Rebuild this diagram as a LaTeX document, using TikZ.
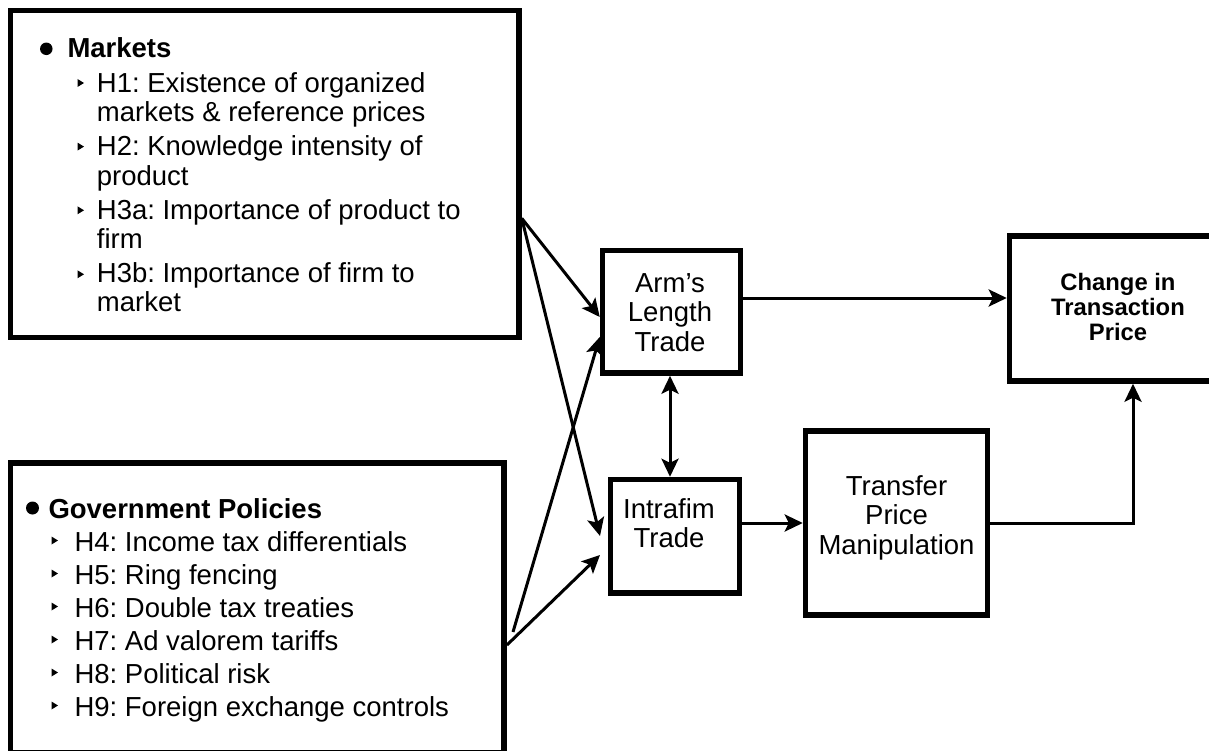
\documentclass[tikz,border=0pt]{standalone}
\usepackage{fontspec}
\setmainfont{Liberation Sans}
\usetikzlibrary{arrows.meta}
\frenchspacing
\begin{document}
\begin{tikzpicture}[x=1pt,y=-1pt,
  box/.style={draw=black, line width=5.5pt, rectangle, inner sep=0pt},
  boxtext/.style={align=center, inner sep=0pt, font=\fontsize{27.5}{29.5}\selectfont},
  listtext/.style={anchor=base west, inner sep=0pt},
  conn/.style={line width=3pt, -{Stealth[length=18pt,width=17pt,inset=4pt]}},
  dconn/.style={line width=3pt, {Stealth[length=18pt,width=17pt,inset=4pt]}-{Stealth[length=18pt,width=17pt,inset=4pt]}},
  glyph/.style={fill=black}
]
\useasboundingbox (0,0) rectangle (1209,751);
\clip (0,0) rectangle (1209,751);
\fill[white] (0,0) rectangle (1209,751);

% boxes
\node[box, minimum width=508.5pt, minimum height=327pt] (markets) at (264.75,174) {};
\node[box, minimum width=493.7pt, minimum height=290pt] (gov) at (257.35,608) {};
\node[box, minimum width=138pt, minimum height=122.5pt] (arm) at (671.5,311.75) {};
\node[box, minimum width=129pt, minimum height=113.5pt] (intra) at (675,536.25) {};
\node[box, minimum width=182pt, minimum height=184pt] (transfer) at (896.5,523) {};
\node[box, minimum width=217pt, minimum height=145pt] (change) at (1118,308.5) {};

% box texts
\node[boxtext] (armtext) at (670,312.4) {Arm’s\\Length\\Trade};
\node[boxtext] (intratext) at (669,523) {Intrafim\\Trade};
\node[boxtext] (transtext) at (896.5,517.8) {Transfer\\Price\\Manipulation};
\node[boxtext, font=\bfseries\fontsize{23.8}{25}\selectfont] (changetext) at (1118,306.7) {Change in\\Transaction\\Price};

% markets list
\fill[glyph] (46.3,48.8) circle (6.25pt);
\node[listtext, font=\bfseries\fontsize{27.5}{29.3}\selectfont] (mhead) at (67.3,57.5) {Markets};
\node[listtext, font=\fontsize{27.5}{29.3}\selectfont] (mlist) at (96.7,92.7) {\begin{tabular}[t]{@{}l@{}}
H1: Existence of organized\\
markets \& reference prices\\[4.7pt]
H2: Knowledge intensity of\\
product\\[4.7pt]
H3a: Importance of product to\\
firm\\[4.7pt]
H3b: Importance of firm to\\
market
\end{tabular}};
\foreach \y in {83,146.6,210.3,274.3}
  \fill[glyph] (77.5,\y-4) -- (84,\y) -- (77.5,\y+4) -- cycle;

% government list
\fill[glyph] (32.5,508) circle (6.5pt);
\node[listtext, font=\bfseries\fontsize{27.5}{33}\selectfont] (ghead) at (48.3,518) {Government Policies};
\node[listtext, font=\fontsize{27.5}{33}\selectfont] (glist) at (74.3,551.5) {\begin{tabular}[t]{@{}l@{}}
H4: Income tax differentials\\
H5: Ring fencing\\
H6: Double tax treaties\\
H7: Ad valorem tariffs\\
H8: Political risk\\
H9: Foreign exchange controls
\end{tabular}};
\foreach \y in {540.5,573.5,606.5,639.5,672.5,705.5}
  \fill[glyph] (51.5,\y-4) -- (58,\y) -- (51.5,\y+4) -- cycle;

% helper coordinates
\coordinate (ym) at (0,218.3);
\coordinate (ya1) at (0,317);
\coordinate (ya2) at (0,337);
\coordinate (ti1) at (600,536);
\coordinate (ti2) at (600,555);
\coordinate (gs) at (513,632);
\coordinate (yg) at (0,645);
\coordinate (yc) at (0,298);
\coordinate (xd) at (670,0);
\coordinate (xu) at (1133,0);
\coordinate (ms) at (markets.east |- ym);

% connectors
\draw[conn] (ms) -- (arm.west |- ya1);
\draw[conn] (ms) -- (ti1);
\draw[conn] (gs) -- (arm.west |- ya2);
\draw[conn] (gov.east |- yg) -- (ti2);
\draw[conn] (arm.east |- yc) -- (change.west |- yc);
\draw[dconn] (arm.south -| xd) -- (intra.north -| xd);
\draw[conn] (intra.east |- transfer.west) -- (transfer.west);
\draw[conn] (transfer.east) -| (change.south -| xu);
\end{tikzpicture}
\end{document}
